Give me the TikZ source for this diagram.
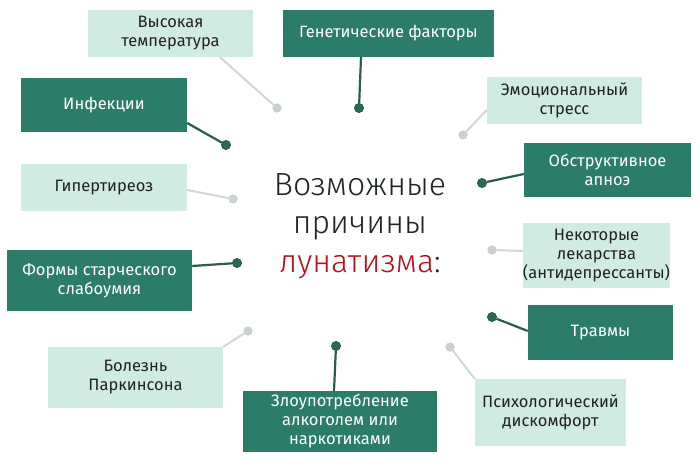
\documentclass[tikz,border=0pt]{standalone}
\usepackage{fontspec}
\setmainfont{Fira Sans}
\newfontfamily\titlefont{Fira Sans Light}
\definecolor{darkbox}{HTML}{2B7D69}
\definecolor{lightbox}{HTML}{D0ECE2}
\definecolor{darkline}{HTML}{2C5B51}
\definecolor{lightline}{HTML}{D0D8D6}
\definecolor{darkdot}{HTML}{2A6858}
\definecolor{lightdot}{HTML}{C9D2D0}
\definecolor{titlered}{HTML}{B5121B}
\definecolor{titleblack}{HTML}{1E2522}
\definecolor{boxtext}{HTML}{222222}
\tikzset{
  boxbase/.style={rectangle, inner sep=0pt, align=center, font=\fontsize{16.5}{19}\selectfont},
  darkcause/.style={boxbase, fill=darkbox, text=white},
  lightcause/.style={boxbase, fill=lightbox, text=boxtext},
  darkdotnode/.style={circle, fill=darkdot, draw=darkline, line width=0.6pt, minimum size=9pt, inner sep=0pt},
  lightdotnode/.style={circle, fill=lightdot, minimum size=9pt, inner sep=0pt},
  darkconn/.style={draw=darkline, line width=2.2pt},
  lightconn/.style={draw=lightline, line width=2pt},
  titletext/.style={anchor=base, inner sep=0pt, font=\titlefont\fontsize{32}{38}\selectfont},
}
\begin{document}
\begin{tikzpicture}[x=1pt,y=-1pt]
\useasboundingbox (0,0) rectangle (700,468);
\fill[white] (0,0) rectangle (700,468);
% boxes
\node[lightcause, minimum width=165pt, minimum height=47pt] (h1) at (170.5,33.5) {Высокая\\температура};
\node[darkcause, minimum width=211pt, minimum height=47pt] (h2) at (388.5,33.5) {Генетические факторы};
\node[darkcause, minimum width=166pt, minimum height=54pt] (h3) at (104,105) {Инфекции};
\node[lightcause, minimum width=155pt, minimum height=47pt] (h4) at (564.5,100.5) {Эмоциональный\\стресс};
\node[lightcause, minimum width=166pt, minimum height=47pt] (h5) at (104,187.5) {Гипертиреоз};
\node[darkcause, minimum width=167pt, minimum height=54pt] (h6) at (607.5,170) {Обструктивное\\апноэ};
\node[darkcause, minimum width=185pt, minimum height=61pt] (h7) at (99.5,280.5) {Формы старческого\\слабоумия};
\node[lightcause, minimum width=145pt, minimum height=65pt] (h8) at (596.5,255.5) {Некоторые\\лекарства\\(антидепрессанты)};
\node[darkcause, minimum width=145pt, minimum height=55pt] (h9) at (600.5,332.5) {Травмы};
\node[lightcause, minimum width=175pt, minimum height=61pt] (h10) at (135.5,377.5) {Болезнь\\Паркинсона};
\node[darkcause, minimum width=194pt, minimum height=61pt] (h11) at (340,421.5) {Злоупотребление\\алкоголем или\\наркотиками};
\node[lightcause, minimum width=151pt, minimum height=67pt] (h12) at (550.5,412.5) {Психологический\\дискомфорт};
% dots
\node[lightdotnode] (d1) at (277,108) {};
\node[darkdotnode] (d2) at (359,108) {};
\node[darkdotnode] (d3) at (226,145) {};
\node[lightdotnode] (d4) at (463,135) {};
\node[lightdotnode] (d5) at (233,199) {};
\node[darkdotnode] (d6) at (482,183) {};
\node[darkdotnode] (d7) at (237,263) {};
\node[lightdotnode] (d8) at (492,250) {};
\node[darkdotnode] (d9) at (492,317) {};
\node[lightdotnode] (d10) at (248,331) {};
\node[darkdotnode] (d11) at (336,346) {};
\node[lightdotnode] (d12) at (450,347) {};
% connectors
\draw[lightconn] ([xshift=49.5pt]h1.south) -- (d1);
\draw[darkconn] ([xshift=-27.5pt]h2.south) -- (d2);
\draw[darkconn] ([yshift=-18pt]h3.east) -- (d3);
\draw[lightconn] ([yshift=-9.5pt]h4.west) -- (d4);
\draw[lightconn] ([yshift=-2.5pt]h5.east) -- (d5);
\draw[darkconn] ([yshift=-4pt]h6.west) -- (d6);
\draw[darkconn] ([yshift=14.5pt]h7.east) -- (d7);
\draw[lightconn] ([yshift=4.5pt]h8.west) -- (d8);
\draw[darkconn] ([yshift=1.5pt]h9.west) -- (d9);
\draw[lightconn] (h10.north east) -- (d10);
\draw[darkconn] ([xshift=-6pt]h11.north) -- (d11);
\draw[lightconn] (h12.north west) -- (d12);
% redraw dots on top
\node[lightdotnode] at (d1) {};
\node[darkdotnode] at (d2) {};
\node[darkdotnode] at (d3) {};
\node[lightdotnode] at (d4) {};
\node[lightdotnode] at (d5) {};
\node[darkdotnode] at (d6) {};
\node[darkdotnode] at (d7) {};
\node[lightdotnode] at (d8) {};
\node[darkdotnode] at (d9) {};
\node[lightdotnode] at (d10) {};
\node[darkdotnode] at (d11) {};
\node[lightdotnode] at (d12) {};
% title
\node[titletext, text=titleblack] (t1) at (360,195) {Возможные};
\node[titletext, text=titleblack] (t2) at (360,233) {причины};
\node[titletext] (t3) at (360,272) {\textcolor{titlered}{лунатизма}\textcolor{titleblack}{:}};
\end{tikzpicture}
\end{document}
